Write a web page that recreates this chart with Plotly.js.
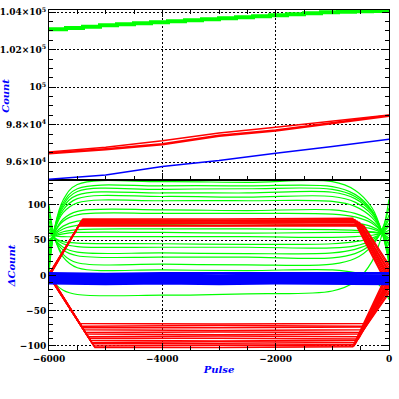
<!DOCTYPE html>
<html>
<head>
<meta charset="utf-8">
<script src="https://cdn.plot.ly/plotly-3.0.1.min.js"></script>
<style>html,body{margin:0;padding:0;background:#fff;}#chart{width:399px;height:399px;}</style>
</head>
<body>
<div id="chart"></div>
<script>
// ---------- Top panel: Count vs Pulse ----------
const topGreenX = [-6000,-5700,-5400,-5100,-4800,-4500,-4200,-3900,-3600,-3300,-3000,-2700,-2400,-2100,-1800,-1500,-1200,-900,-600,-300,0];
const topGreenY = [103093,103163,103232,103307,103360,103413,103467,103520,103573,103627,103680,103733,103787,103840,103893,103947,104000,104032,104055,104070,104070];
const topRedX = [-6000,-5000,-4000,-3000,-2000,-1000,0];
const topRedUpperY = [96540,96800,97140,97560,97870,98210,98520];
const topRedLowerY = [96480,96690,96960,97410,97690,98080,98480];
const topBlueX = [-6000,-5000,-4000,-3000,-2000,-1000,0];
const topBlueY = [95093,95323,95765,96085,96480,96832,97227];

// ---------- Bottom panel: ΔCount vs Pulse ----------
const greenX = [-6000,-5900,-5750,-5500,-4000,-2500,-1000,-600,-300,-120,0];
const greenDelta = [
  [4,68,107,129,133,132,133,121,96,60,16],
  [8,67,103,123,127,127,126,115,92,60,20],
  [12,67,100,119,122,123,122,112,91,61,24],
  [15,66,97,114,117,117,118,109,89,62,27],
  [18,65,93,109,112,111,112,104,86,61,30],
  [22,64,89,103,106,106,105,98,82,61,34],
  [30,61,80,91,93,92,93,88,77,61,42],
  [34,61,77,86,88,88,87,83,74,61,45],
  [40,59,70,77,78,78,78,75,69,61,50],
  [44,58,66,71,72,71,72,70,66,60,53],
  [48,57,62,65,66,66,65,64,62,60,57],
  [51,56,59,61,61,60,61,61,61,60,60],
  [56,56,55,55,55,55,54,55,57,60,64],
  [62,53,48,46,45,44,45,48,53,60,70],
  [66,53,45,41,40,40,39,42,50,61,74],
  [72,52,40,33,32,31,32,37,47,62,80],
  [78,52,36,28,26,26,25,31,45,63,86],
  [88,52,30,18,16,15,16,24,42,66,96],
  [100,54,26,11,8,7,8,4,-5,-18,-34],
  [6,-11,-21,-27,-28,-26,-22,-9,20,59,108]
];
const redUpX = [
  [-6000,-5400,-3000,-640,0],
  [-6000,-5410,-3000,-620,0],
  [-6000,-5420,-3000,-600,0],
  [-6000,-5425,-3000,-580,0],
  [-6000,-5435,-3000,-560,0],
  [-6000,-5440,-3000,-540,0],
  [-6000,-5450,-3000,-520,0],
  [-6000,-5460,-3000,-500,0],
  [-6000,-5470,-3000,-470,0],
  [-6000,-5480,-3000,-440,0]
];
const redUpY = [
  [0,80,80,81,-18],
  [1,79,78,79,-14],
  [-1,78,78,79,-10],
  [2,77,76,77,-6],
  [-2,76,76,77,-3],
  [0,75,74,75,0],
  [1,74,74,75,4],
  [-1,72,71,72,7],
  [2,71,71,72,11],
  [0,70,70,70,15]
];
const redLoX = [
  [-6000,-5460,-3000,-400,0],
  [-6000,-5429,-3000,-420,0],
  [-6000,-5413,-3000,-440,0],
  [-6000,-5389,-3000,-460,0],
  [-6000,-5357,-3000,-480,0],
  [-6000,-5341,-3000,-500,0],
  [-6000,-5310,-3000,-520,0],
  [-6000,-5294,-3000,-540,0],
  [-6000,-5270,-3000,-560,0],
  [-6000,-5246,-3000,-580,0],
  [-6000,-5230,-3000,-600,0],
  [-6000,-5206,-3000,-620,0],
  [-6000,-5190,-3000,-640,0]
];
const redLoY = [
  [0,-68,-69,-68,-10],
  [1,-72,-71,-72,-12],
  [-1,-74,-74,-73,-8],
  [2,-77,-78,-77,-18],
  [0,-81,-80,-81,-22],
  [-1,-83,-84,-83,-25],
  [1,-87,-86,-87,-5],
  [0,-89,-89,-90,-15],
  [2,-92,-93,-92,-6],
  [-1,-95,-94,-95,-3],
  [0,-97,-97,-98,2],
  [1,-100,-99,-100,5],
  [0,-102,-102,-101,8]
];
const blueX = [-6000,-5000,-4000,-3000,-2000,-1000,0];
const blueDelta = [
  [3,2,3,3,2,3,3],
  [1,0,1,0,1,1,0],
  [-1,-2,-1,-1,-2,-1,-1],
  [-3,-4,-3,-4,-3,-3,-4],
  [-5,-6,-5,-5,-6,-5,-5],
  [-7,-8,-7,-8,-7,-7,-8],
  [-9,-10,-9,-9,-10,-9,-9],
  [-11,-12,-11,-12,-11,-11,-12]
];

const xTickVals = [-6000,-4000,-2000,0];
const xTickText = ['\u22126000','\u22124000','\u22122000','0'];
const topTickVals = [96000,98000,100000,102000,104000];
const topTickText = ['9.6\u00d710<sup>4</sup>','9.8\u00d710<sup>4</sup>','10<sup>5</sup>','1.02\u00d710<sup>5</sup>','1.04\u00d710<sup>5</sup>'];
const botTickVals = [-100,-50,0,50,100];
const botTickText = ['\u2212100','\u221250','0','50','100'];

const GREEN = '#00ff00', RED = '#ff0000', BLUE = '#0000ff';
const traces = [];
// top panel
traces.push({x: topGreenX, y: topGreenY, xaxis:'x2', yaxis:'y2', mode:'lines', line:{color:GREEN, width:4, shape:'hv'}, hoverinfo:'skip'});
traces.push({x: topRedX, y: topRedUpperY, xaxis:'x2', yaxis:'y2', mode:'lines', line:{color:RED, width:1.5}, hoverinfo:'skip'});
traces.push({x: topRedX, y: topRedLowerY, xaxis:'x2', yaxis:'y2', mode:'lines', line:{color:RED, width:2.5}, hoverinfo:'skip'});
traces.push({x: topBlueX, y: topBlueY, xaxis:'x2', yaxis:'y2', mode:'lines', line:{color:BLUE, width:1.5}, hoverinfo:'skip'});
// bottom panel
greenDelta.forEach(yy => traces.push({x: greenX, y: yy, xaxis:'x', yaxis:'y', mode:'lines', line:{color:GREEN, width:1.2, shape:'spline', smoothing:1}, hoverinfo:'skip'}));
redUpX.forEach((xx,i) => traces.push({x: xx, y: redUpY[i], xaxis:'x', yaxis:'y', mode:'lines', line:{color:RED, width:1.5}, hoverinfo:'skip'}));
redLoX.forEach((xx,i) => traces.push({x: xx, y: redLoY[i], xaxis:'x', yaxis:'y', mode:'lines', line:{color:RED, width:1.5}, hoverinfo:'skip'}));
blueDelta.forEach(yy => traces.push({x: blueX, y: yy, xaxis:'x', yaxis:'y', mode:'lines', line:{color:BLUE, width:2.5}, hoverinfo:'skip'}));

const tickFont = {family:'DejaVu Serif', size:9, color:'black', weight:'bold'};
const titleFont = {family:'DejaVu Serif', size:10, color:'blue', style:'italic', weight:'bold'};
const common = {
  showline:true, linecolor:'black', linewidth:1,
  ticks:'inside', ticklen:7, tickwidth:1, tickcolor:'black',
  showgrid:true, gridcolor:'black', gridwidth:1, griddash:'2px,2px',
  zeroline:false, tickfont:tickFont
};

const layout = {
  width:399, height:399,
  margin:{l:49, r:10, t:10, b:49, pad:0},
  paper_bgcolor:'white', plot_bgcolor:'white',
  showlegend:false,
  xaxis: Object.assign({}, common, {
    domain:[0,1], anchor:'y', range:[-6000,0], mirror:true,
    tickmode:'array', tickvals:xTickVals, ticktext:xTickText,
    minor:{tickmode:'linear', tick0:0, dtick:500, ticks:'inside', ticklen:4, tickcolor:'black', showgrid:false},
    title:{text:'Pulse', font:titleFont, standoff:3}
  }),
  xaxis2: Object.assign({}, common, {
    domain:[0,1], anchor:'y2', range:[-6000,0], matches:'x', mirror:'ticks', showticklabels:false,
    tickmode:'array', tickvals:xTickVals,
    minor:{tickmode:'linear', tick0:0, dtick:500, ticks:'inside', ticklen:4, tickcolor:'black', showgrid:false}
  }),
  yaxis: Object.assign({}, common, {
    domain:[0,0.5], anchor:'x', range:[-105.7,135.4], mirror:'ticks',
    tickmode:'array', tickvals:botTickVals, ticktext:botTickText,
    minor:{tickmode:'linear', tick0:0, dtick:10, ticks:'inside', ticklen:4, tickcolor:'black', showgrid:false}
  }),
  yaxis2: Object.assign({}, common, {
    domain:[0.5,1], anchor:'x2', range:[95050,104120], mirror:'ticks',
    tickmode:'array', tickvals:topTickVals, ticktext:topTickText,
    minor:{tickmode:'linear', tick0:0, dtick:500, ticks:'inside', ticklen:4, tickcolor:'black', showgrid:false}
  }),
  annotations:[
    {text:'Count', xref:'paper', yref:'paper', x:-0.1265, y:0.7476, xanchor:'center', yanchor:'middle', textangle:-90, showarrow:false, font:titleFont},
    {text:'\u0394Count', xref:'paper', yref:'paper', x:-0.11, y:0.248, xanchor:'center', yanchor:'middle', textangle:-90, showarrow:false, font:titleFont}
  ]
};

Plotly.newPlot('chart', traces, layout, {staticPlot:true, displayModeBar:false});
</script>
</body>
</html>
